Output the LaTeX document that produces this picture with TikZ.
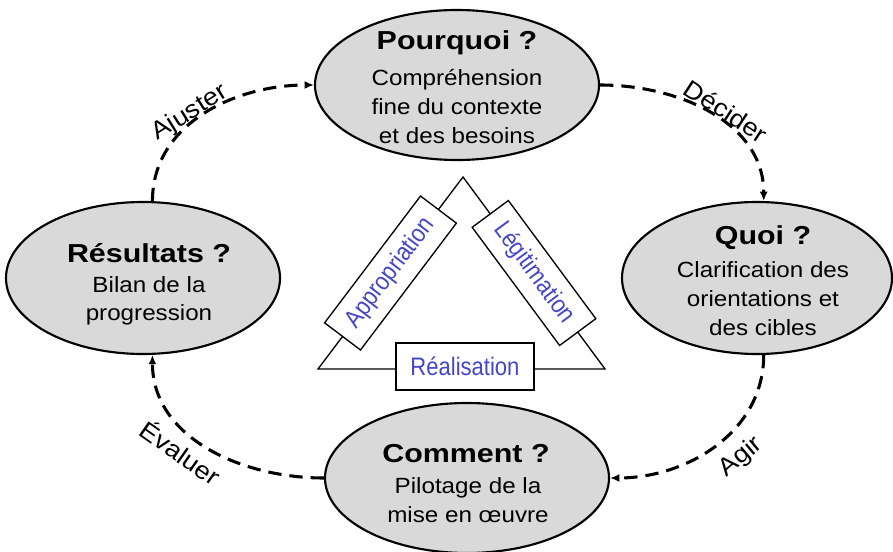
\documentclass[tikz,border=0pt]{standalone}
\usepackage{fontspec}
\setmainfont{Liberation Sans}[FakeStretch=1.1]
\newfontfamily\titlefam{Liberation Sans}[FakeStretch=1.17]
\newfontfamily\sidefam{Liberation Sans}[FakeStretch=0.87]
\usetikzlibrary{shapes.geometric,arrows.meta,calc}
\definecolor{bubblegray}{RGB}{217,217,217}
\definecolor{sideblue}{RGB}{70,70,200}
\begin{document}
\begin{tikzpicture}[x=0.75pt,y=0.75pt,
  bubble/.style={ellipse, draw=black, line width=1.6pt, fill=bubblegray, inner sep=0pt},
  title/.style={anchor=base, inner sep=0pt, font=\titlefam\bfseries\fontsize{19.5}{19.5}\selectfont},
  body/.style={anchor=base, inner sep=0pt, font=\fontsize{16.5}{16.5}\selectfont},
  cyclearrow/.style={line width=2.3pt, dash pattern=on 10pt off 6pt, -{Latex[length=7pt,width=6pt]}},
  steplabel/.style={inner sep=0pt, font=\fontsize{18.5}{18.5}\selectfont},
  sidebox/.style={draw=black, line width=1pt, fill=white, inner sep=0pt,
    font=\sidefam\fontsize{19}{19}\selectfont, text=sideblue}
]
\useasboundingbox (0,0) rectangle (893,551);

% central triangle with its three sides
\coordinate (apex) at (463,374);
\coordinate (tl) at (318,182);
\coordinate (tr) at (605,182);
\draw[line width=1pt] (tl) -- (apex) -- (tr) -- cycle;
\node[sidebox, minimum width=119.25pt, minimum height=33.75pt, rotate=52.9]
  (appro) at ($(tl)!0.5!(apex)$) {Appropriation};
\node[sidebox, minimum width=110.25pt, minimum height=33.75pt, rotate=-53.5]
  (legit) at ($(tr)!0.5!(apex)$) {Légitimation};
\node[sidebox, minimum width=103.5pt, minimum height=35.25pt]
  (real) at (465,184.5) {Réalisation};

% the four questions
\node[bubble, minimum width=213pt, minimum height=112.5pt] (why) at (457,466) {};
\node[title] (whyt) at (457,501) {Pourquoi ?};
\node[body] (why1) at (457,465) {Compréhension};
\node[body] (why2) at (457,436) {fine du contexte};
\node[body] (why3) at (457,407) {et des besoins};

\node[bubble, minimum width=202.5pt, minimum height=114pt] (what) at (757,273) {};
\node[title] (whatt) at (763,306) {Quoi ?};
\node[body] (what1) at (763,274) {Clarification des};
\node[body] (what2) at (763,245) {orientations et};
\node[body] (what3) at (763,216) {des cibles};

\node[bubble, minimum width=205.5pt, minimum height=114pt] (res) at (143,273) {};
\node[title] (rest) at (149,289) {Résultats ?};
\node[body] (res1) at (149,259) {Bilan de la};
\node[body] (res2) at (149,231) {progression};

\node[bubble, minimum width=213pt, minimum height=112.5pt] (how) at (467,73) {};
\node[title] (howt) at (466,89) {Comment ?};
\node[body] (how1) at (468,58) {Pilotage de la};
\node[body] (how2) at (468,29) {mise en œuvre};

% the cycle
\draw[cyclearrow] (res.83) to[out=90,in=180] (why.west);
\draw[cyclearrow] (why.east) to[out=0,in=90] (what.85);
\draw[cyclearrow] (what.-85) to[out=-90,in=0] (how.east);
\draw[cyclearrow] (how.west) to[out=180,in=-90] (res.-83);

\node[steplabel, rotate=32] (adj) at (190,438) {Ajuster};
\node[steplabel, rotate=-33] (dec) at (726,440) {Décider};
\node[steplabel, rotate=40] (act) at (741,94) {Agir};
\node[steplabel, rotate=-35] (eva) at (181,99) {Évaluer};
\end{tikzpicture}
\end{document}
